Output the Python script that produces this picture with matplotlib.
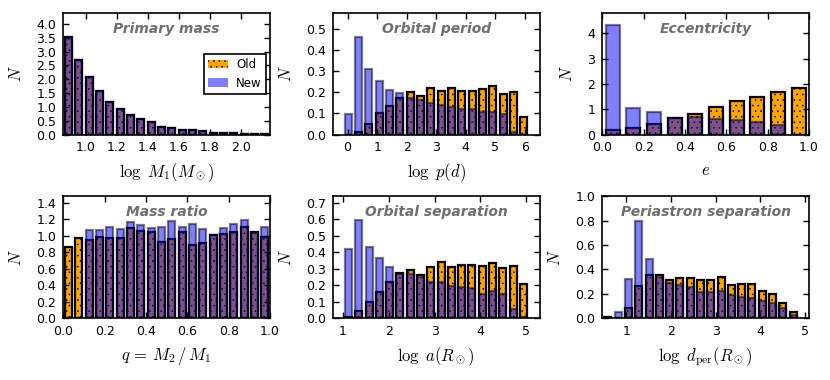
import numpy as np
import matplotlib.pyplot as plt
from matplotlib.patches import Patch

plt.rcParams['mathtext.fontset'] = 'cm'
plt.rcParams['font.family'] = ['DejaVu Sans']
plt.rcParams['hatch.linewidth'] = 0.4

# primary mass, log M1
m1_range = (0.855, 2.19)
m1_old = [3.52, 2.70, 2.07, 1.57, 1.17, 0.92, 0.69, 0.58, 0.44, 0.29,
          0.22, 0.17, 0.16, 0.12, 0.07, 0.05, 0.04, 0.03, 0.01, 0.005]
m1_new = [3.52, 2.70, 2.07, 1.57, 1.17, 0.92, 0.69, 0.58, 0.44, 0.29,
          0.22, 0.17, 0.16, 0.12, 0.07, 0.05, 0.04, 0.03, 0.01, 0.005]

# orbital period, log p
p_range = (-0.155, 6.145)
p_old = [0.0, 0.010, 0.052, 0.100, 0.136, 0.174, 0.201, 0.180, 0.222,
         0.207, 0.218, 0.207, 0.207, 0.214, 0.228, 0.193, 0.201, 0.084]
p_new = [0.098, 0.459, 0.312, 0.252, 0.209, 0.195, 0.171, 0.161, 0.149,
         0.141, 0.128, 0.120, 0.120, 0.106, 0.106, 0.095, 0.011, 0.0]

# eccentricity
e_range = (0.0, 1.0)
e_old = [0.16, 0.24, 0.43, 0.66, 0.82, 1.08, 1.34, 1.50, 1.67, 1.84]
e_new = [4.33, 1.05, 0.87, 0.64, 0.68, 0.62, 0.58, 0.51, 0.39, 0.0]

# mass ratio
q_range = (0.0, 1.0)
q_old = [0.86, 0.976, 0.951, 0.988, 0.976, 0.98, 1.094, 1.065, 1.053, 0.922,
         0.963, 1.053, 0.886, 0.918, 1.016, 1.02, 1.049, 1.114, 1.045, 0.984]
q_new = [0.0, 0.0, 1.069, 1.07, 1.114, 1.078, 1.17, 1.127, 1.094, 1.106,
         1.18, 1.114, 1.139, 1.082, 1.008, 1.094, 1.143, 1.196, 1.037, 1.11]

# orbital separation, log a
a_range = (1.01, 5.05)
a_old = [0.005, 0.04, 0.096, 0.161, 0.222, 0.273, 0.294, 0.265, 0.31,
         0.341, 0.312, 0.32, 0.322, 0.314, 0.337, 0.302, 0.316, 0.208]
a_new = [0.42, 0.596, 0.43, 0.367, 0.31, 0.269, 0.269, 0.249, 0.22,
         0.22, 0.196, 0.188, 0.184, 0.147, 0.163, 0.149, 0.057, 0.008]

# periastron separation, log d_per
d_range = (0.47, 4.85)
d_old = [0.008, 0.0, 0.084, 0.264, 0.351, 0.351, 0.313, 0.329, 0.329, 0.313,
         0.31, 0.337, 0.269, 0.283, 0.283, 0.22, 0.196, 0.125, 0.046]
d_new = [0.008, 0.046, 0.324, 0.797, 0.487, 0.335, 0.291, 0.275, 0.256, 0.215,
         0.215, 0.22, 0.188, 0.171, 0.166, 0.144, 0.12, 0.084, 0.024]

titles = ['Primary mass', 'Orbital period', 'Eccentricity',
          'Mass ratio', 'Orbital separation', 'Periastron separation']
xlabels = [r'$\log\ M_1(M_\odot)$', r'$\log\ p(d)$', r'$e$',
           r'$q\,{=}\,M_2\,/\,M_1$', r'$\log\ a(R_\odot)$',
           r'$\log\ d_{\rm per}(R_\odot)$']

panels = [(m1_range, m1_old, m1_new), (p_range, p_old, p_new),
          (e_range, e_old, e_new), (q_range, q_old, q_new),
          (a_range, a_old, a_new), (d_range, d_old, d_new)]

xlims = [(0.855, 2.19), (-0.5, 6.5), (0, 1), (0, 1), (0.78, 5.29), (0.46, 5.09)]
ylims = [4.4, 0.575, 4.8, 1.48, 0.74, 1.0]
xticks = [np.arange(1.0, 2.01, 0.2), np.arange(0, 7), np.arange(0, 1.01, 0.2),
          np.arange(0, 1.01, 0.2), np.arange(1, 6), np.arange(1, 6)]
yticks = [np.arange(0, 4.01, 0.5), np.arange(0, 0.51, 0.1), np.arange(0, 5),
          np.arange(0, 1.41, 0.2), np.arange(0, 0.71, 0.1), np.arange(0, 1.01, 0.2)]
xfmt = ['%.1f', '%d', '%.1f', '%.1f', '%d', '%d']
yfmt = ['%.1f', '%.1f', '%d', '%.1f', '%.1f', '%.1f']

fig, axes = plt.subplots(2, 3, figsize=(8.3, 3.8), dpi=100)
plt.subplots_adjust(left=0.0763, right=0.9747, bottom=0.163, top=0.966,
                    wspace=0.304, hspace=0.509)

for i, ax in enumerate(axes.flat):
    rng, old, new = panels[i]
    nb = len(old)
    edges = np.linspace(rng[0], rng[1], nb + 1)
    bw = edges[1] - edges[0]
    centers = 0.5 * (edges[:-1] + edges[1:])
    ax.bar(centers, old, width=0.68 * bw, color='orange', edgecolor='k',
           lw=1.6, hatch='...')
    ax.bar(centers, new, width=0.68 * bw, color='b', edgecolor='k',
           lw=1.6, alpha=0.5)
    ax.set_xlim(xlims[i])
    ax.set_ylim(0, ylims[i])
    ax.set_xticks(xticks[i])
    ax.set_yticks(yticks[i])
    ax.set_xticklabels([xfmt[i] % v for v in xticks[i]])
    ax.set_yticklabels([yfmt[i] % v for v in yticks[i]])
    ax.tick_params(direction='in', top=True, right=True, length=4, width=1,
                   labelsize=9, pad=5)
    for s in ax.spines.values():
        s.set_linewidth(1.2)
    ax.set_xlabel(xlabels[i], fontsize=12, labelpad=5)
    ax.set_ylabel('$N$', fontsize=12, labelpad=8)
    ax.text(0.5, 0.87, titles[i], transform=ax.transAxes, ha='center',
            va='center', fontsize=10, fontweight='bold', style='italic',
            color='#6e6e6e')

handles = [Patch(facecolor='orange', edgecolor='k', lw=0, hatch='...'),
           Patch(facecolor='b', alpha=0.5, lw=0)]
leg = axes[0, 0].legend(handles, ['Old', 'New'], loc='center right',
                        fontsize=8.5, fancybox=False, framealpha=1,
                        borderaxespad=0.35, borderpad=0.35,
                        handlelength=1.7, handletextpad=0.7)
leg.get_frame().set_edgecolor('k')
leg.get_frame().set_linewidth(1.2)

plt.savefig('out.png', dpi=100)
